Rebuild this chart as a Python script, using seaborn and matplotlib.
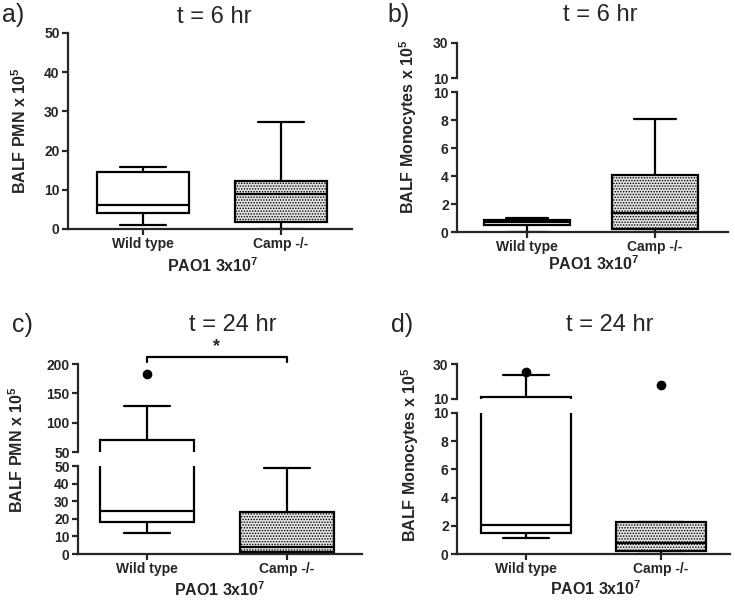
import numpy as np
import pandas as pd
import matplotlib
matplotlib.use("Agg")
import matplotlib.pyplot as plt
import seaborn as sns

# DATA (five-number summaries: min, Q1, median, Q3, max)
groups = ["Wild type", "Camp -/-"]

pmn_6h_wt = [1.0, 4.2, 6.2, 14.5, 15.8]
pmn_6h_camp = [0.0, 1.7, 9.0, 12.3, 27.3]

mono_6h_wt = [0.0, 0.52, 0.75, 0.88, 0.98]
mono_6h_camp = [0.0, 0.21, 1.36, 4.05, 8.1]

pmn_24h_wt = [12.0, 18.4, 24.2, 71.2, 128.4]
pmn_24h_camp = [0.0, 1.1, 4.0, 23.9, 48.9]
pmn_24h_outliers = {"Wild type": [183.0], "Camp -/-": []}

mono_24h_wt = [1.16, 1.49, 2.06, 11.1, 23.7]
mono_24h_camp = [0.0, 0.19, 0.76, 2.25, 2.3]
mono_24h_outliers = {"Wild type": [25.2], "Camp -/-": [18.2]}

box_colors = {"Wild type": "white", "Camp -/-": "#e2e2e2"}

W, H = 735, 606

sns.set_style("ticks")
plt.rcParams["font.family"] = ["Liberation Sans", "DejaVu Sans"]
plt.rcParams["mathtext.default"] = "regular"
plt.rcParams["hatch.linewidth"] = 0.7
plt.rcParams["hatch.color"] = "#707070"

fig = plt.figure(figsize=(W / 100, H / 100), dpi=100)


def px_axes(left, top, right, bottom):
    return fig.add_axes([left / W, 1 - bottom / H, (right - left) / W, (bottom - top) / H])


def draw_boxes(ax, wt, camp, outliers=None):
    df = pd.DataFrame({"group": [groups[0]] * len(wt) + [groups[1]] * len(camp),
                       "value": wt + camp})
    sns.boxplot(data=df, x="group", y="value", hue="group", order=groups, hue_order=groups,
                palette=box_colors, whis=(0, 100), width=0.67, linewidth=1.6,
                linecolor="black", showfliers=False, dodge=False, legend=False, ax=ax)
    # stippled fill on the knockout box
    camp_rgb = matplotlib.colors.to_rgb(box_colors["Camp -/-"])
    for p in ax.patches:
        if np.allclose(matplotlib.colors.to_rgb(p.get_facecolor()), camp_rgb):
            p.set_hatch("......")
    if outliers:
        odf = pd.DataFrame([(g, v) for g in groups for v in outliers.get(g, [])],
                           columns=["group", "value"])
        if len(odf):
            sns.stripplot(data=odf, x="group", y="value", order=groups, jitter=False,
                          color="black", size=7, ax=ax)


def style_axis(ax, xlim, bottom=True):
    ax.set_xlim(*xlim)
    ax.set_xlabel("")
    ax.set_ylabel("")
    for s in ["top", "right"]:
        ax.spines[s].set_visible(False)
    ax.spines["left"].set_linewidth(1.6)
    ax.spines["bottom"].set_linewidth(1.6)
    ax.tick_params(axis="both", width=1.6, length=4, labelsize=10, direction="out", pad=2)
    for lab in ax.get_yticklabels() + ax.get_xticklabels():
        lab.set_fontweight("bold")
    if not bottom:
        ax.spines["bottom"].set_visible(False)
        ax.tick_params(axis="x", bottom=False, labelbottom=False)
        # hide whisker/cap lines that sit entirely below the break
        lo = ax.get_ylim()[0]
        for ln in ax.lines:
            y = np.asarray(ln.get_ydata(), dtype=float)
            if y.size and np.nanmax(y) < lo:
                ln.set_visible(False)


# ---- panel a ----
ax_a = px_axes(68, 33, 352, 229)
draw_boxes(ax_a, pmn_6h_wt, pmn_6h_camp)
ax_a.set_ylim(0, 50)
ax_a.set_yticks([0, 10, 20, 30, 40, 50])
style_axis(ax_a, (-0.543, 1.514))

# ---- panel b (broken axis) ----
ax_b_top = px_axes(457, 43, 728, 78)
ax_b = px_axes(457, 92, 728, 232)
for ax in (ax_b_top, ax_b):
    draw_boxes(ax, mono_6h_wt, mono_6h_camp)
ax_b_top.set_ylim(10, 30)
ax_b_top.set_yticks([10, 30])
ax_b.set_ylim(0, 10)
ax_b.set_yticks([0, 2, 4, 6, 8, 10])
style_axis(ax_b_top, (-0.547, 1.57), bottom=False)
style_axis(ax_b, (-0.547, 1.57))

# ---- panel c (broken axis) ----
ax_c_top = px_axes(78, 364, 362, 452)
ax_c = px_axes(78, 466, 362, 554)
for ax in (ax_c_top, ax_c):
    draw_boxes(ax, pmn_24h_wt, pmn_24h_camp, pmn_24h_outliers)
ax_c_top.set_ylim(50, 200)
ax_c_top.set_yticks([50, 100, 150, 200])
ax_c.set_ylim(0, 50)
ax_c.set_yticks([0, 10, 20, 30, 40, 50])
style_axis(ax_c_top, (-0.493, 1.536), bottom=False)
style_axis(ax_c, (-0.493, 1.536))
# significance bracket
ax_c_top.plot([0, 0, 1, 1], [203, 212, 212, 203], color="black", lw=1.6, clip_on=False)
ax_c_top.text(0.5, 216, "*", ha="center", va="bottom", fontsize=13, fontweight="bold")

# ---- panel d (broken axis) ----
ax_d_top = px_axes(457, 364, 730, 399)
ax_d = px_axes(457, 413, 730, 554)
for ax in (ax_d_top, ax_d):
    draw_boxes(ax, mono_24h_wt, mono_24h_camp, mono_24h_outliers)
ax_d_top.set_ylim(10, 30)
ax_d_top.set_yticks([10, 30])
ax_d.set_ylim(0, 10)
ax_d.set_yticks([0, 2, 4, 6, 8, 10])
style_axis(ax_d_top, (-0.511, 1.511), bottom=False)
style_axis(ax_d, (-0.511, 1.511))


# ---- text ----
def ftext(x, y, s, **kw):
    fig.text(x / W, 1 - y / H, s, **kw)


title_kw = dict(fontsize=17, ha="center", va="center")
ftext(214, 17, "t = 6 hr", **title_kw)
ftext(600, 15, "t = 6 hr", **title_kw)
ftext(233, 325, "t = 24 hr", **title_kw)
ftext(610, 325, "t = 24 hr", **title_kw)

panel_kw = dict(fontsize=18, ha="left", va="center")
ftext(2, 15, "a)", **panel_kw)
ftext(387, 15, "b)", **panel_kw)
ftext(12, 325, "c)", **panel_kw)
ftext(391, 325, "d)", **panel_kw)

ylab_kw = dict(fontsize=11.5, fontweight="bold", rotation=90, ha="center", va="center")
ftext(20, 131, "BALF PMN x 10$^{5}$", **ylab_kw)
ftext(408, 127, "BALF Monocytes x 10$^{5}$", **ylab_kw)
ftext(17, 450, "BALF PMN x 10$^{5}$", **ylab_kw)
ftext(410, 455, "BALF Monocytes x 10$^{5}$", **ylab_kw)

xlab_kw = dict(fontsize=11.5, fontweight="bold", ha="center", va="center")
ftext(213, 266, "PAO1 3x10$^{7}$", **xlab_kw)
ftext(594, 264, "PAO1 3x10$^{7}$", **xlab_kw)
ftext(220, 590, "PAO1 3x10$^{7}$", **xlab_kw)
ftext(596, 589, "PAO1 3x10$^{7}$", **xlab_kw)

fig.savefig("out.png", dpi=100)
